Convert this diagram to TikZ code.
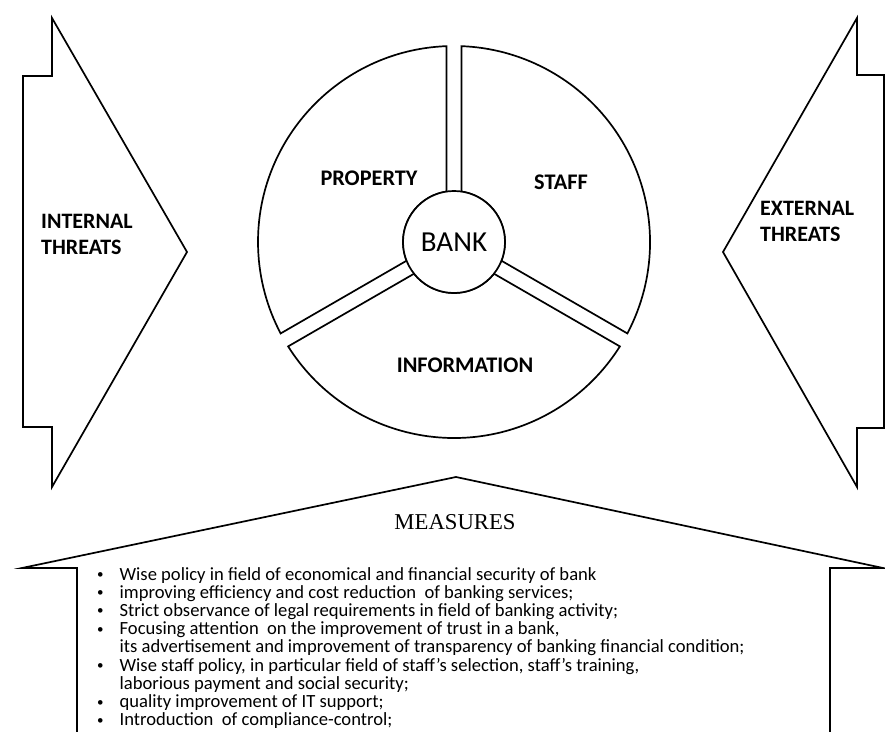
\documentclass[tikz,border=0pt]{standalone}
\usepackage{fontspec}
\setmainfont{Carlito}
\newfontfamily\measfont{Liberation Serif}
\newcommand{\smallbul}{\raisebox{1.5pt}{\fontsize{13}{13}\selectfont\textbullet}}
\begin{document}
\begin{tikzpicture}[x=1pt,y=1pt,
  shapeline/.style={draw=black,line width=1.7pt,line join=miter,fill=white},
  seglabel/.style={font=\fontsize{22.3}{26}\selectfont\bfseries,inner sep=0pt},
  threatlabel/.style={font=\fontsize{22}{26}\selectfont\bfseries,align=left,anchor=west,inner sep=0pt}]
\useasboundingbox (0,0) rectangle (885,731);
\clip (0,0) rectangle (885,731);
% left arrow (internal threats)
\draw[shapeline] (52,713) -- (187,479) -- (52,244) -- (52,304) -- (23,304) -- (23,655) -- (52,655) -- cycle;
% right arrow (external threats)
\draw[shapeline] (857,713) -- (723,479) -- (857,244) -- (857,303) -- (884,303) -- (884,656) -- (857,656) -- cycle;
% bottom shape (measures)
\draw[shapeline] (77,-2) -- (77,163) -- (22,163) -- (456,254) -- (883,163) -- (830,163) -- (830,-2);
% segments
\begin{scope}[shift={(454,489)}]
\draw[shapeline] (-27.81:196pt) arc[start angle=-27.81,end angle=87.81,radius=196pt] -- (81.54:51pt) arc[start angle=81.54,end angle=-21.54,radius=51pt] -- cycle;
\draw[shapeline] (92.19:196pt) arc[start angle=92.19,end angle=207.81,radius=196pt] -- (201.54:51pt) arc[start angle=201.54,end angle=98.46,radius=51pt] -- cycle;
\draw[shapeline] (212.19:196pt) arc[start angle=212.19,end angle=327.81,radius=196pt] -- (321.54:51pt) arc[start angle=321.54,end angle=218.46,radius=51pt] -- cycle;
\end{scope}
\node[circle,draw=black,line width=1.7pt,fill=white,minimum size=102pt,inner sep=0pt,font=\fontsize{29}{32}\selectfont] (bank) at (454,489) {BANK};
\node[seglabel] (property) at (369,553) {PROPERTY};
\node[seglabel] (staff) at (561,549) {STAFF};
\node[seglabel] (information) at (465,366) {INFORMATION};
\node[threatlabel] (internal) at (41,497) {INTERNAL\\THREATS};
\node[threatlabel] (external) at (760,510) {EXTERNAL\\THREATS};
\node[font=\measfont\fontsize{22.7}{26}\selectfont,inner sep=0pt] (measures) at (455,209) {MEASURES};
\node[anchor=base west,inner sep=0pt,font=\fontsize{18.6}{17.6}\selectfont] (list) at (97,151) {%
\renewcommand{\arraystretch}{1}%
\begin{tabular}[t]{@{}l@{\hspace{16pt}}l@{}}
\smallbul & Wise policy in field of economical and financial security of bank\\
\smallbul & improving efficiency and cost reduction\ \ of banking services;\\
\smallbul & Strict observance of legal requirements in field of banking activity;\\
\smallbul & Focusing attention\ \ on the improvement of trust in a bank,\\
 & its advertisement and improvement of transparency of banking financial condition;\\
\smallbul & Wise staff policy, in particular field of staff’s selection, staff’s training,\\
 & laborious payment and social security;\\
\smallbul & quality improvement of IT support;\\
\smallbul & Introduction\ \ of compliance-control;
\end{tabular}};
\end{tikzpicture}
\end{document}
